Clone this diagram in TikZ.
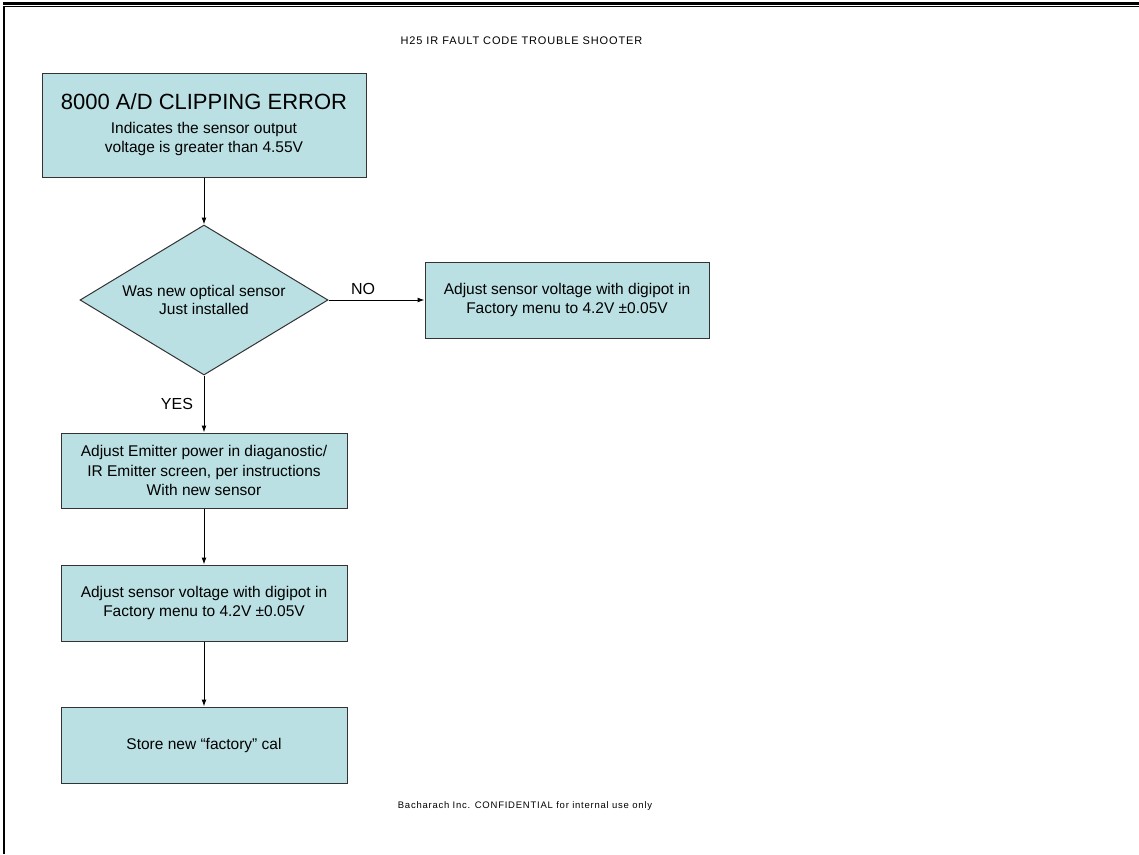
\documentclass[tikz,border=0pt]{standalone}
\usepackage{fontspec}
\setmainfont{Liberation Sans}
\newfontfamily\trackedfont[LetterSpace=8]{Liberation Sans}
\usetikzlibrary{shapes.geometric,arrows.meta}
\definecolor{boxfill}{HTML}{BAE0E3}
\tikzset{
  flowbox/.style={draw=black!80, line width=1pt, fill=boxfill, align=center,
    font=\fontsize{15.5}{19.5}\selectfont, inner sep=0pt},
  decision/.style={diamond, aspect=1.65, draw=black!80, line width=1pt, fill=boxfill,
    align=center, font=\fontsize{15.5}{17.5}\selectfont, inner sep=0pt,
    minimum width=248pt, minimum height=150pt},
  flowarrow/.style={draw=black, line width=1pt, -{Latex[length=7pt,width=5pt]}},
  smalltext/.style={font=\trackedfont\fontsize{11}{13}\selectfont},
  foottext/.style={font=\trackedfont\fontsize{9.5}{11}\selectfont},
  lbl/.style={font=\fontsize{16}{18}\selectfont, inner sep=0pt},
}
\begin{document}
\begin{tikzpicture}[x=1pt,y=-1pt]
\useasboundingbox (0,0) rectangle (1139,854);
% page frame
\fill[black] (3,2) rectangle (1139,5);
\fill[black] (3,6.2) rectangle (1139,7.4);
\fill[black] (3,6.2) rectangle (5,854);

\node[smalltext] (title) at (521.5,41) {H25 IR FAULT CODE TROUBLE SHOOTER};

\node[flowbox, minimum width=324pt, minimum height=104pt] (err) at (204,125)
  {{\fontsize{22}{24}\selectfont 8000 A/D CLIPPING ERROR}\\[4pt]
   Indicates the sensor output\\ voltage is greater than 4.55V};

\node[decision] (q) at (204,300) {Was new optical sensor\\ Just installed};

\node[flowbox, minimum width=284pt, minimum height=76pt] (no) at (567,300)
  {Adjust sensor voltage with digipot in\\ Factory menu to 4.2V ±0.05V};

\node[flowbox, minimum width=286pt, minimum height=75pt] (emit) at (204,470.5)
  {Adjust Emitter power in diaganostic/\\ IR Emitter screen, per instructions\\ With new sensor};

\node[flowbox, minimum width=286pt, minimum height=76pt] (adj) at (204,603)
  {Adjust sensor voltage with digipot in\\ Factory menu to 4.2V ±0.05V};

\node[flowbox, minimum width=286pt, minimum height=76pt] (store) at (204,745)
  {Store new “factory” cal};

\node[lbl] (nolbl) at (363,289) {NO};
\node[lbl] (yeslbl) at (177,404) {YES};

\node[foottext] (foot) at (525,806) {Bacharach Inc. CONFIDENTIAL for internal use only};

\draw[flowarrow] (err) -- (q);
\draw[flowarrow] (q.east) -- (no.west);
\draw[flowarrow] (q.south) -- (emit.north);
\draw[flowarrow] (emit) -- (adj);
\draw[flowarrow] (adj) -- (store);
\end{tikzpicture}
\end{document}
